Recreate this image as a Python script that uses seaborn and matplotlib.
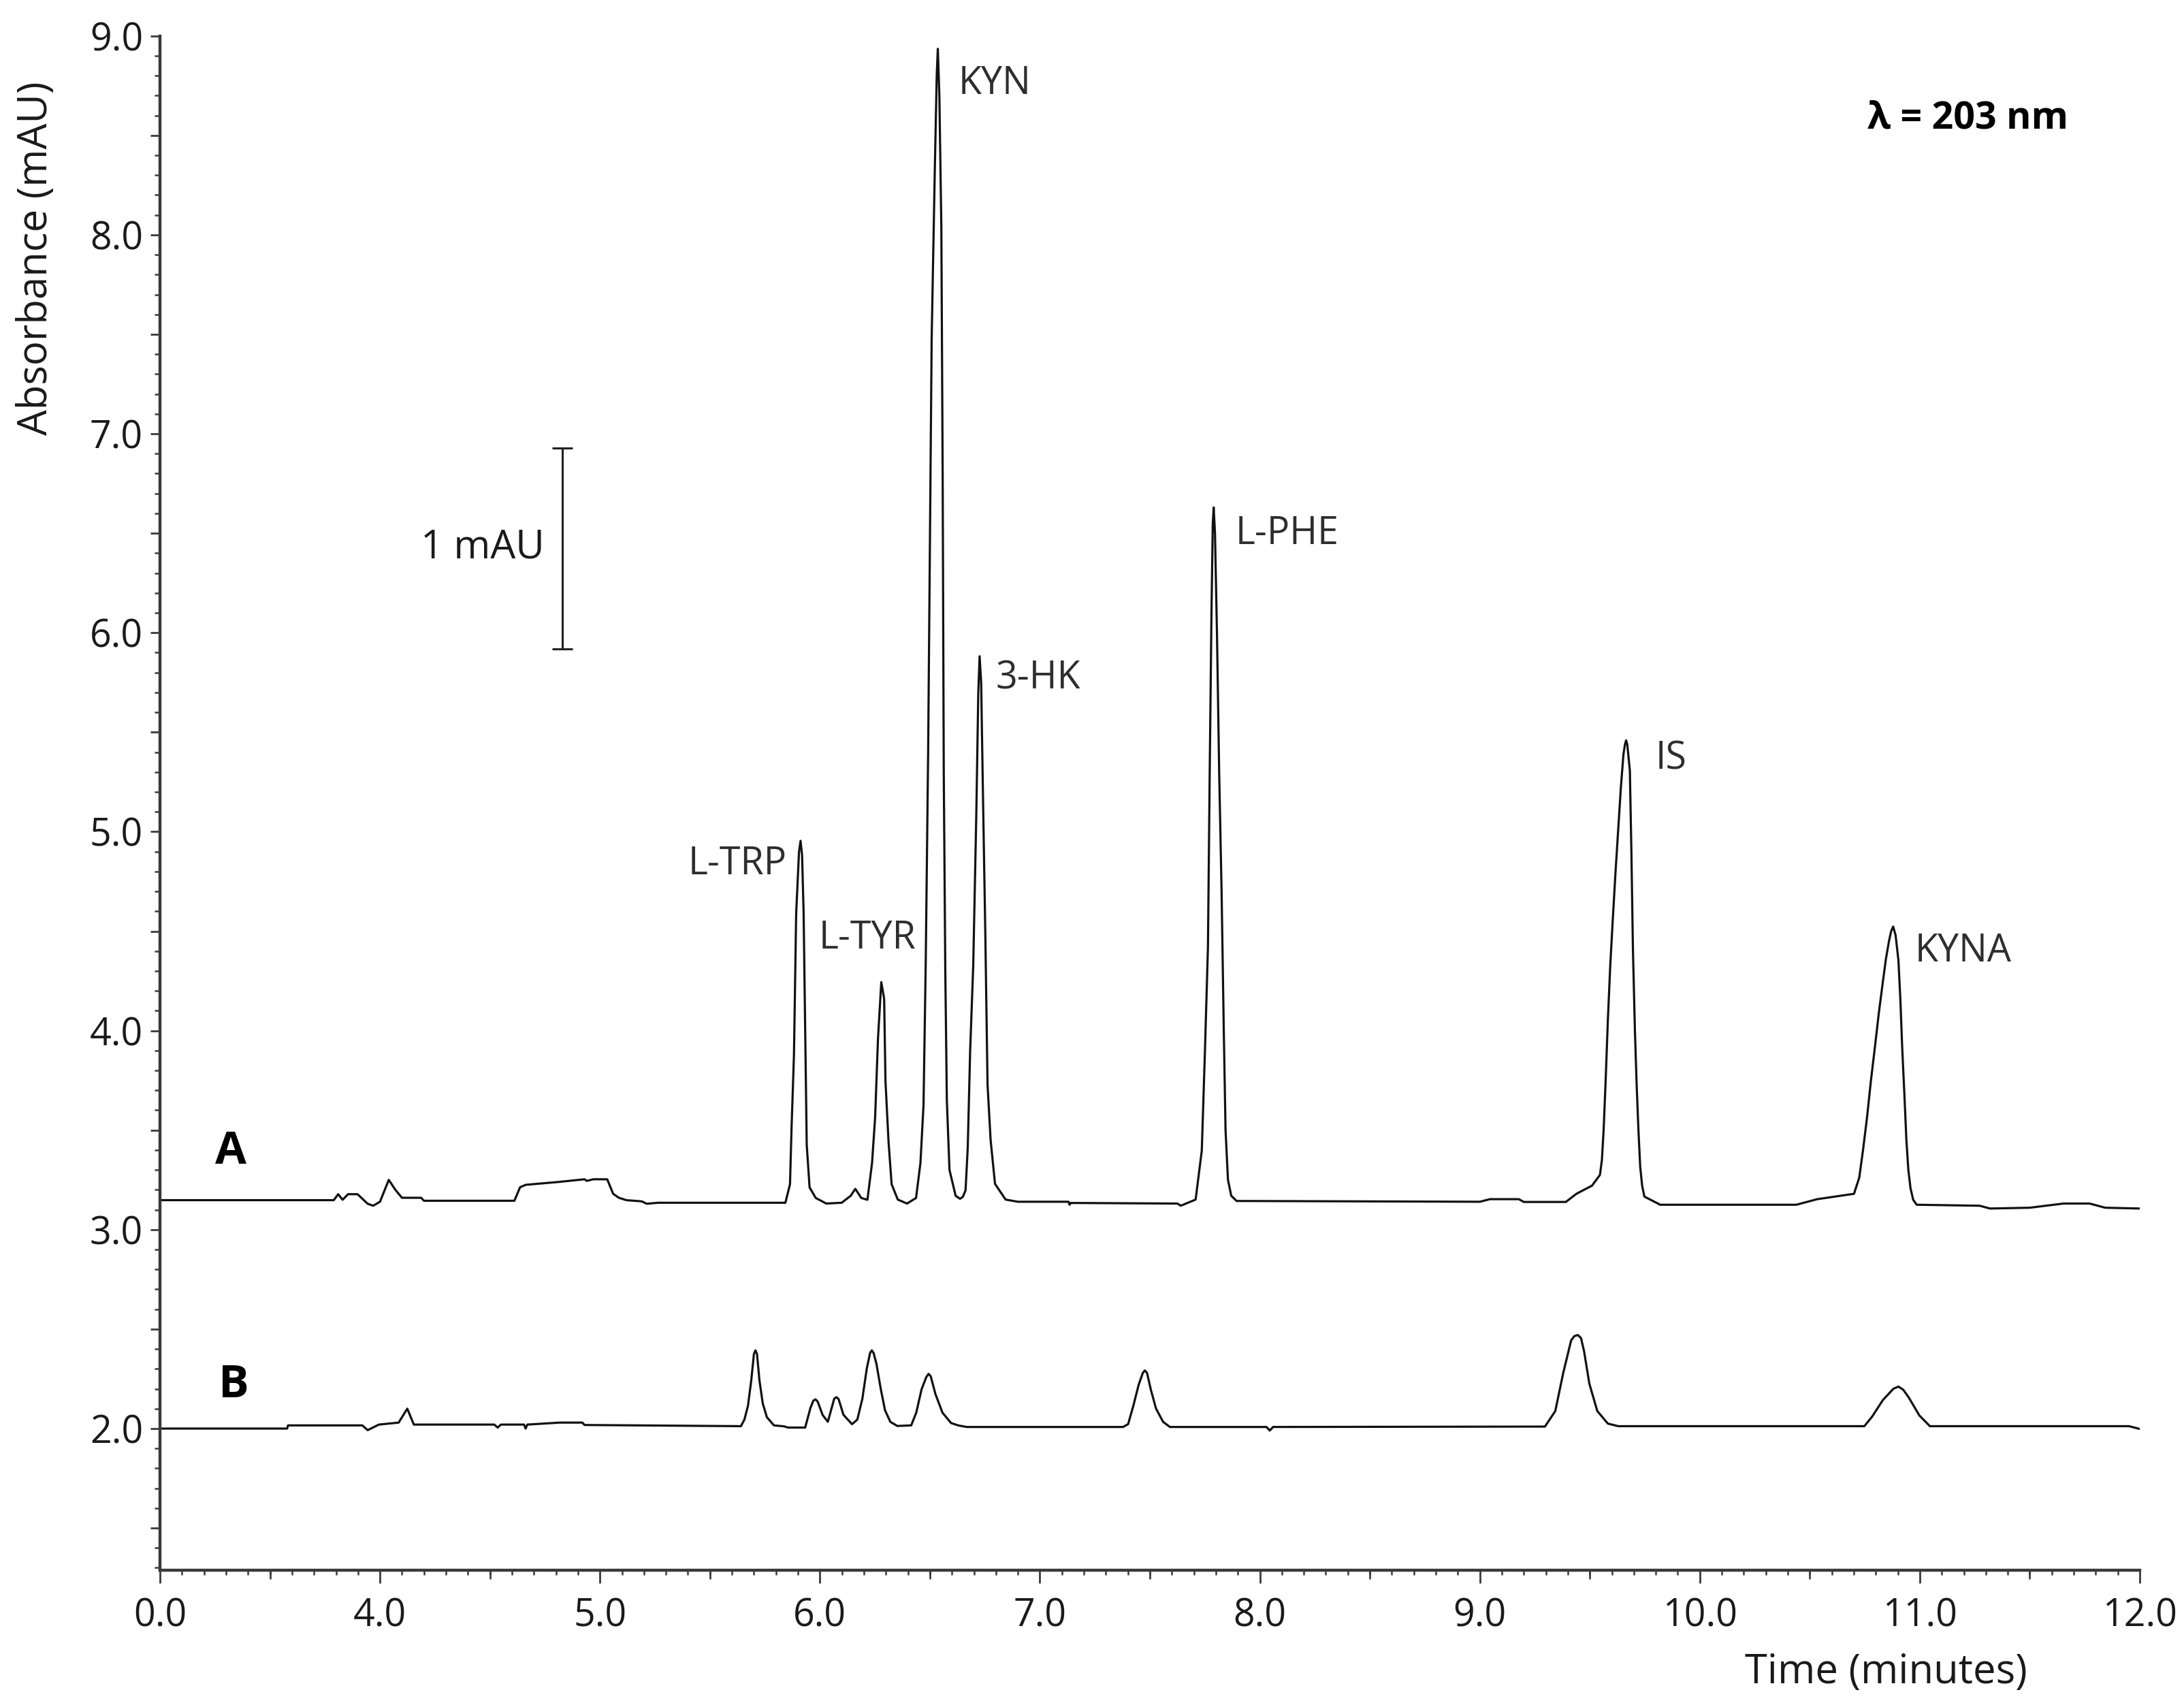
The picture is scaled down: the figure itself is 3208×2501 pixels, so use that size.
import numpy as np
import pandas as pd
import matplotlib
matplotlib.use("Agg")
import matplotlib.pyplot as plt
from matplotlib.ticker import FixedLocator, FixedFormatter, MultipleLocator, FuncFormatter
import seaborn as sns

# ---------------- data ----------------
# Trace A (standard mixture), time axis in minutes, absorbance in mAU
time_A = [3.000, 3.790, 3.810, 3.830, 3.855, 3.898, 3.944, 3.969, 4.000, 4.040, 4.070, 4.100,
          4.187, 4.200, 4.611, 4.637, 4.662, 4.714, 4.816, 4.930, 4.940, 4.970, 5.033, 5.060,
          5.086, 5.120, 5.190, 5.213, 5.265, 5.843, 5.864, 5.871, 5.882, 5.892, 5.905, 5.912,
          5.919, 5.926, 5.933, 5.940, 5.953, 5.981, 6.029, 6.099, 6.140, 6.161, 6.188, 6.216,
          6.237, 6.251, 6.264, 6.279, 6.292, 6.298, 6.312, 6.326, 6.354, 6.396, 6.437, 6.457,
          6.471, 6.481, 6.492, 6.508, 6.522, 6.531, 6.536, 6.543, 6.552, 6.558, 6.563, 6.570,
          6.577, 6.589, 6.617, 6.637, 6.650, 6.662, 6.672, 6.683, 6.697, 6.711, 6.720, 6.726,
          6.733, 6.741, 6.752, 6.762, 6.776, 6.796, 6.844, 6.900, 7.130, 7.135, 7.140, 7.626,
          7.640, 7.708, 7.736, 7.750, 7.764, 7.772, 7.780, 7.786, 7.790, 7.796, 7.805, 7.815,
          7.826, 7.836, 7.844, 7.855, 7.870, 7.894, 9.000, 9.046, 9.177, 9.200, 9.391, 9.439,
          9.510, 9.546, 9.555, 9.563, 9.572, 9.582, 9.593, 9.605, 9.617, 9.629, 9.641, 9.653,
          9.660, 9.665, 9.670, 9.682, 9.689, 9.696, 9.705, 9.713, 9.721, 9.729, 9.738, 9.748,
          9.820, 10.439, 10.534, 10.701, 10.725, 10.742, 10.760, 10.778, 10.796, 10.814,
          10.832, 10.846, 10.860, 10.870, 10.879, 10.890, 10.903, 10.912, 10.920, 10.930,
          10.939, 10.948, 10.958, 10.970, 10.986, 11.272, 11.319, 11.500, 11.653, 11.772,
          11.843, 12.000]
absorb_A = [3.148, 3.148, 3.178, 3.150, 3.178, 3.178, 3.130, 3.120, 3.140, 3.250, 3.200, 3.160,
            3.160, 3.145, 3.145, 3.213, 3.225, 3.230, 3.240, 3.253, 3.245, 3.253, 3.253, 3.180,
            3.160, 3.148, 3.142, 3.130, 3.135, 3.135, 3.228, 3.510, 3.877, 4.587, 4.900, 4.954,
            4.880, 4.587, 4.000, 3.427, 3.212, 3.159, 3.131, 3.135, 3.170, 3.205, 3.159, 3.150,
            3.335, 3.564, 3.960, 4.244, 4.160, 3.747, 3.441, 3.228, 3.151, 3.131, 3.159, 3.335,
            3.626, 4.340, 5.400, 7.480, 8.310, 8.800, 8.935, 8.700, 8.040, 6.800, 5.300, 4.300,
            3.650, 3.300, 3.170, 3.155, 3.165, 3.197, 3.411, 3.900, 4.328, 5.090, 5.700, 5.882,
            5.750, 5.200, 4.480, 3.730, 3.450, 3.230, 3.151, 3.140, 3.140, 3.125, 3.134, 3.131,
            3.120, 3.151, 3.397, 3.885, 4.420, 5.300, 6.100, 6.550, 6.630, 6.500, 6.000, 5.300,
            4.700, 4.000, 3.500, 3.250, 3.170, 3.144, 3.140, 3.153, 3.153, 3.139, 3.139, 3.180,
            3.221, 3.275, 3.350, 3.507, 3.750, 4.053, 4.330, 4.571, 4.800, 5.008, 5.220, 5.390,
            5.440, 5.459, 5.440, 5.308, 4.900, 4.408, 4.000, 3.726, 3.500, 3.316, 3.220, 3.166,
            3.125, 3.125, 3.153, 3.180, 3.262, 3.400, 3.562, 3.750, 3.917, 4.090,
            4.244, 4.360, 4.450, 4.500, 4.523, 4.480, 4.353, 4.150, 3.917, 3.680,
            3.453, 3.300, 3.207, 3.150, 3.125, 3.120, 3.106, 3.110, 3.131, 3.131,
            3.110, 3.106]

# Trace B (sample)
time_B = [3.000, 3.578, 3.582, 3.920, 3.944, 3.995, 4.085, 4.124, 4.154, 4.520, 4.535, 4.550,
          4.655, 4.662, 4.670, 4.817, 4.920, 4.930, 5.641, 5.657, 5.673, 5.688, 5.700, 5.707,
          5.714, 5.725, 5.740, 5.759, 5.791, 5.838, 5.854, 5.933, 5.957, 5.970, 5.980, 5.990,
          6.012, 6.036, 6.065, 6.075, 6.085, 6.107, 6.146, 6.170, 6.193, 6.213, 6.228, 6.236,
          6.244, 6.257, 6.277, 6.296, 6.320, 6.352, 6.415, 6.438, 6.462, 6.484, 6.494, 6.504,
          6.525, 6.557, 6.596, 6.628, 6.667, 7.378, 7.401, 7.425, 7.449, 7.468, 7.477, 7.487,
          7.504, 7.528, 7.560, 7.591, 8.030, 8.045, 8.060, 9.296, 9.343, 9.379, 9.415, 9.430,
          9.446, 9.460, 9.474, 9.498, 9.534, 9.582, 9.629, 10.748, 10.784, 10.832, 10.880,
          10.903, 10.925, 10.950, 10.998, 11.046, 11.951, 12.000]
absorb_B = [2.000, 2.000, 2.016, 2.016, 1.992, 2.020, 2.030, 2.100, 2.020, 2.020, 2.005, 2.020,
            2.020, 2.000, 2.020, 2.030, 2.030, 2.018, 2.012, 2.046, 2.115, 2.243, 2.375, 2.393,
            2.375, 2.243, 2.127, 2.057, 2.016, 2.011, 2.005, 2.005, 2.104, 2.140, 2.147, 2.135,
            2.069, 2.034, 2.150, 2.158, 2.148, 2.069, 2.022, 2.045, 2.150, 2.301, 2.380, 2.393,
            2.380, 2.325, 2.197, 2.092, 2.034, 2.013, 2.016, 2.080, 2.197, 2.260, 2.275, 2.262,
            2.174, 2.080, 2.028, 2.016, 2.008, 2.008, 2.022, 2.115, 2.220, 2.280, 2.292, 2.280,
            2.197, 2.100, 2.034, 2.008, 2.008, 1.990, 2.008, 2.010, 2.088, 2.279, 2.443, 2.465,
            2.470, 2.455, 2.388, 2.225, 2.088, 2.025, 2.012, 2.012, 2.061, 2.143, 2.200,
            2.211, 2.195, 2.156, 2.066, 2.012, 2.012, 1.998]

# Peak labels (name, time of left edge, absorbance of label centre)
peak_names = ["L-TRP", "L-TYR", "KYN", "3-HK", "L-PHE", "IS", "KYNA"]
peak_label_t = [5.399, 5.996, 6.630, 6.798, 7.890, 9.797, 10.979]
peak_label_a = [4.834, 4.461, 8.756, 5.768, 6.494, 5.364, 4.396]

trace_names = ["A", "B"]
trace_label_t = [3.322, 3.334]
trace_label_a = [3.390, 2.216]

x_tick_pos = [3, 4, 5, 6, 7, 8, 9, 10, 11, 12]
x_tick_labels = ["0.0", "4.0", "5.0", "6.0", "7.0", "8.0", "9.0", "10.0", "11.0", "12.0"]
y_tick_values = [2.0, 3.0, 4.0, 5.0, 6.0, 7.0, 8.0, 9.0]

scale_bar_t = 4.829
scale_bar_low = 5.92
scale_bar_high = 6.93
scale_bar_text = "1 mAU"
wavelength_text = "\u03bb = 203 nm"

# ---------------- styling ----------------
sns.set_theme(style="ticks")
plt.rcParams["font.family"] = ["Open Sans", "DejaVu Sans"]

TXT = "#1a1a1a"
LBL = "#2e2e2e"
SPINE = "#3a3a3a"

df = pd.concat([
    pd.DataFrame({"time": time_A, "absorbance": absorb_A, "trace": "A"}),
    pd.DataFrame({"time": time_B, "absorbance": absorb_B, "trace": "B"}),
], ignore_index=True)

fig = plt.figure(figsize=(32.08, 25.01), dpi=100)
ax = fig.add_axes([0.07326, 0.07797, 0.90648, 0.90096])

sns.lineplot(data=df, x="time", y="absorbance", hue="trace", units="trace",
             estimator=None, sort=False, palette=["#111111", "#111111"],
             linewidth=2.3, legend=False, ax=ax)

ax.set_xlim(3.0, 12.0)
ax.set_ylim(1.288, 9.0)

for s in ["top", "right"]:
    ax.spines[s].set_visible(False)
for s in ["left", "bottom"]:
    ax.spines[s].set_linewidth(3.2)
    ax.spines[s].set_color(SPINE)

# x ticks
ax.xaxis.set_major_locator(FixedLocator(x_tick_pos))
ax.xaxis.set_major_formatter(FixedFormatter(x_tick_labels))
ax.xaxis.set_minor_locator(MultipleLocator(0.1))
ax.tick_params(axis="x", which="major", direction="out", length=13.5, width=2.0,
               color=SPINE, labelsize=40, labelcolor=TXT, pad=15)
ax.tick_params(axis="x", which="minor", direction="out", length=5, width=1.8, color=SPINE)
sec = ax.secondary_xaxis("bottom")
sec.set_xticks([p + 0.5 for p in x_tick_pos[:-1]])
sec.tick_params(axis="x", direction="out", length=9.5, width=1.9, color=SPINE,
                labelbottom=False)
for s in sec.spines.values():
    s.set_visible(False)

# y ticks
ax.yaxis.set_major_locator(MultipleLocator(0.5))
ax.yaxis.set_major_formatter(FuncFormatter(
    lambda v, p: f"{v:.1f}" if any(abs(v - t) < 1e-6 for t in y_tick_values) else ""))
ax.yaxis.set_minor_locator(MultipleLocator(0.1))
ax.tick_params(axis="y", which="major", direction="out", length=10, width=2.0,
               color=SPINE, labelsize=40, labelcolor=TXT, pad=8)
ax.tick_params(axis="y", which="minor", direction="out", length=5.8, width=1.8, color=SPINE)

ax.set_xlabel("Time (minutes)", fontsize=43, color=TXT)
ax.xaxis.label.set(ha="center", va="center")
ax.xaxis.set_label_coords(0.8717, -0.0666)
ax.set_ylabel("Absorbance (mAU)", fontsize=43, color=TXT)
ax.yaxis.label.set(ha="center", va="center")
ax.yaxis.set_label_coords(-0.0626, 0.855)

# peak labels
for name, t, a in zip(peak_names, peak_label_t, peak_label_a):
    ax.text(t, a, name, fontsize=40, color=LBL, ha="left", va="center")

# trace labels
for name, t, a in zip(trace_names, trace_label_t, trace_label_a):
    ax.text(t, a, name, fontsize=48, fontweight="bold", color="#000000",
            ha="center", va="center")

# wavelength
ax.text(11.22, 8.585, wavelength_text, fontsize=40, fontweight="bold", color="#000000",
        ha="center", va="center")

# scale bar
ax.errorbar([scale_bar_t], [(scale_bar_low + scale_bar_high) / 2],
            yerr=[(scale_bar_high - scale_bar_low) / 2], fmt="none",
            ecolor="#222222", elinewidth=2.2, capsize=10.5, capthick=2.2)
ax.text(4.749, 6.428, scale_bar_text, fontsize=42, color=TXT, ha="right", va="center")

fig.savefig("out.png", dpi=100)
